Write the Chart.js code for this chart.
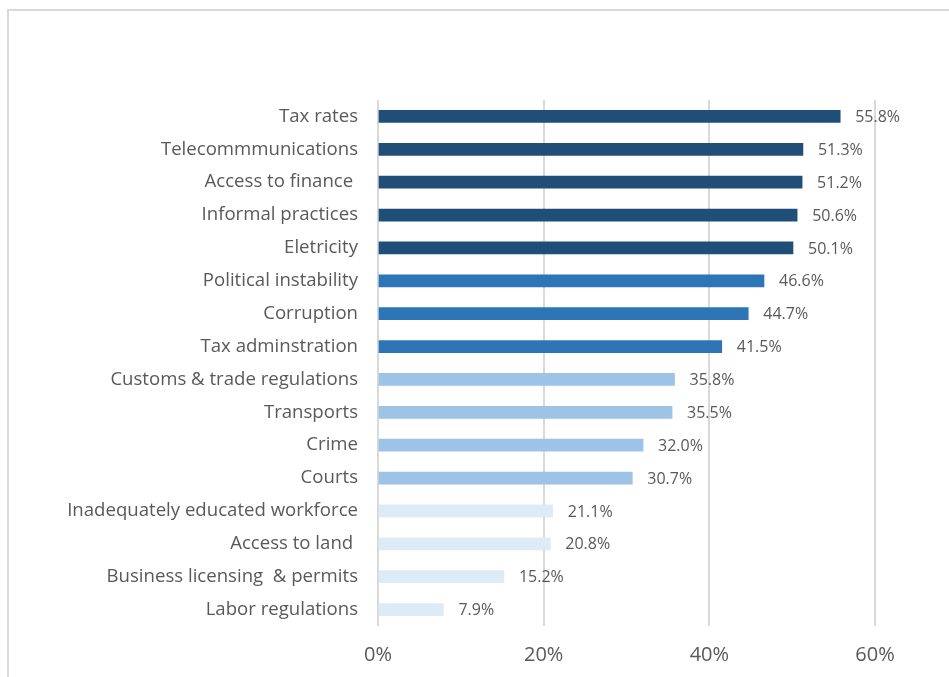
<!DOCTYPE html>
<html>
<head>
<meta charset="utf-8">
<script src="https://cdn.jsdelivr.net/npm/chart.js@4.4.1/dist/chart.umd.min.js"></script>
<style>
  html, body { margin: 0; padding: 0; background: #ffffff; overflow: hidden; }
  #wrap { position: relative; width: 949px; height: 677px; overflow: hidden; }
  #frame { position: absolute; left: 7px; top: 9px; width: 1000px; height: 800px;
           border: 2px solid #d9d9d9; box-sizing: border-box; }
  #c { position: absolute; left: 0; top: 0; }
</style>
</head>
<body>
<div id="wrap">
  <div id="frame"></div>
  <canvas id="c" width="949" height="677"></canvas>
</div>
<script>
// Obstacles to doing business, share of firms (%)
const categories = [
  "Tax rates", "Telecommmunications", "Access to finance ", "Informal practices",
  "Eletricity", "Political instability", "Corruption", "Tax adminstration",
  "Customs & trade regulations", "Transports", "Crime", "Courts",
  "Inadequately educated workforce", "Access to land ", "Business licensing  & permits",
  "Labor regulations"
];
const values = [55.8, 51.3, 51.2, 50.6, 50.1, 46.6, 44.7, 41.5, 35.8, 35.5, 32.0, 30.7, 21.1, 20.8, 15.2, 7.9];
// shade group of each bar: 0 = darkest ... 3 = lightest
const tiers = [0, 0, 0, 0, 0, 1, 1, 1, 2, 2, 2, 2, 3, 3, 3, 3];
const palette = ["#1F4E79", "#2E75B6", "#9DC3E6", "#DDEBF7"];
const xTicks = [0, 20, 40, 60];

const textColor = "#595959";
const fontFamily = "'Open Sans', Lato, sans-serif";

const valueLabels = {
  id: "valueLabels",
  afterDatasetsDraw(chart) {
    const { ctx } = chart;
    const meta = chart.getDatasetMeta(0);
    ctx.save();
    ctx.font = "16px " + fontFamily;
    ctx.fillStyle = textColor;
    ctx.textAlign = "left";
    ctx.textBaseline = "middle";
    meta.data.forEach((bar, i) => {
      ctx.fillText(values[i].toFixed(1) + "%", bar.x + 15, bar.y + 1);
    });
    ctx.restore();
  }
};

new Chart(document.getElementById("c"), {
  type: "bar",
  data: {
    labels: categories,
    datasets: [{
      data: values,
      backgroundColor: tiers.map(t => palette[t]),
      barThickness: 12
    }]
  },
  options: {
    indexAxis: "y",
    responsive: false,
    animation: false,
    layout: { padding: { top: 100, right: 74, left: 0, bottom: 0 } },
    plugins: { legend: { display: false }, tooltip: { enabled: false } },
    scales: {
      x: {
        min: 0, max: 60,
        afterBuildTicks(axis) { axis.ticks = xTicks.map(v => ({ value: v })); },
        afterFit(axis) { axis.height = 677 - 626; },
        grid: { color: "#d9d9d9", lineWidth: 2, drawTicks: false },
        border: { display: false },
        ticks: {
          padding: 17,
          color: textColor,
          font: { family: fontFamily, size: 20 },
          callback: v => v + "%"
        }
      },
      y: {
        afterFit(axis) { axis.width = 378; },
        grid: { display: false, drawTicks: false },
        border: { display: false },
        ticks: {
          padding: 20,
          color: textColor,
          font: { family: fontFamily, size: 18.6 },
          autoSkip: false
        }
      }
    }
  },
  plugins: [valueLabels]
});
</script>
</body>
</html>
